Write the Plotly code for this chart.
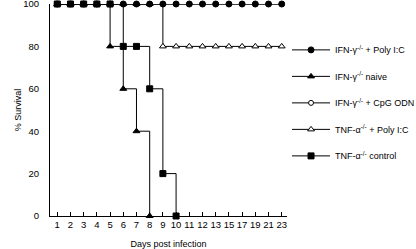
import plotly.graph_objects as go

days = ["1", "2", "3", "4", "5", "6", "7", "8", "9", "10", "11", "12", "13",
        "15", "17", "19", "21", "23"]

ifn_polyic = [100] * 18
ifn_naive = [100, 100, 100, 100, 80, 60, 40, 0]
ifn_cpg = [100] * 18
tnf_polyic = [100, 100, 100, 100, 100, 100, 100, 100, 80, 80, 80, 80, 80, 80, 80, 80, 80, 80]
tnf_control = [100, 100, 100, 100, 100, 80, 80, 60, 20, 0]

names = {
    "ifn_polyic": "IFN-γ<sup>-/-</sup> + Poly I:C",
    "ifn_naive": "IFN-γ<sup>-/-</sup> naive",
    "ifn_cpg": "IFN-γ<sup>-/-</sup> + CpG ODN",
    "tnf_polyic": "TNF-α<sup>-/-</sup> + Poly I:C",
    "tnf_control": "TNF-α<sup>-/-</sup> control",
}

FONT = "Liberation Sans, Arial, sans-serif"

fig = go.Figure()

def add(key, vals, symbol, fill, size, rank):
    fig.add_trace(go.Scatter(
        x=days[:len(vals)], y=vals, name=names[key], mode="lines+markers",
        line=dict(color="black", width=1, shape="hv"),
        marker=dict(symbol=symbol, size=size, color=fill,
                    line=dict(color="black", width=1)),
        cliponaxis=False, legendrank=rank, legendgroup=key,
    ))

# draw order chosen so that filled markers sit on top
add("tnf_polyic", tnf_polyic, "triangle-up", "white", 6, 4)
add("ifn_cpg", ifn_cpg, "circle", "white", 5, 3)
add("ifn_naive", ifn_naive, "triangle-up", "black", 6, 2)
add("ifn_polyic", ifn_polyic, "circle", "black", 6, 1)
add("tnf_control", tnf_control, "square", "black", 6, 5)

fig.update_layout(
    width=416, height=249,
    margin=dict(l=50, r=129, t=4, b=33, autoexpand=False),
    paper_bgcolor="white", plot_bgcolor="white",
    font=dict(family=FONT, size=9, color="black"),
    showlegend=True,
    legend=dict(xref="container", x=0.69, y=0.852, xanchor="left", yanchor="top",
                font=dict(size=9), tracegroupgap=7.5,
                bgcolor="rgba(0,0,0,0)", itemwidth=38),
    xaxis=dict(type="category", categoryorder="array", categoryarray=days,
               range=[-0.55, 17.4], showline=True, linecolor="black", linewidth=1,
               ticks="inside", ticklen=4, tickcolor="black", tickwidth=1,
               showgrid=False, zeroline=False, tickfont=dict(size=9.5), tickangle=0,
               title=dict(text="Days post infection", font=dict(size=9), standoff=14)),
    yaxis=dict(range=[0, 100], tickvals=[0, 20, 40, 60, 80, 100],
               showline=True, linecolor="black", linewidth=1, ticks="",
               showgrid=False, zeroline=False, ticklabelstandoff=8,
               ticklabeloverflow="allow", tickfont=dict(size=9.5),
               title=dict(text="% Survival", font=dict(size=9), standoff=0)),
)

fig.write_html("out.html", config={"displayModeBar": False},
               post_script="document.body.style.margin='0px';")
